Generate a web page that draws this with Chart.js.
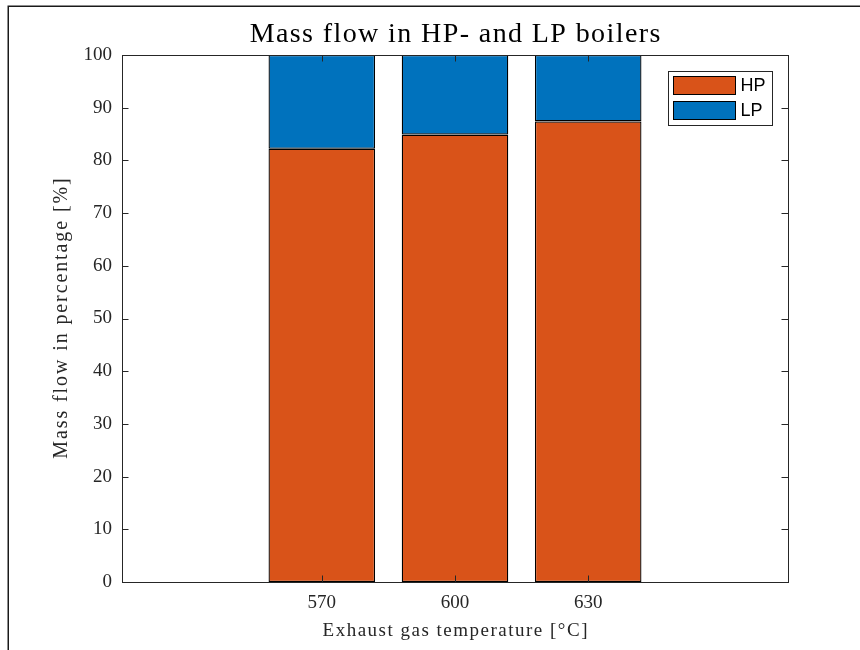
<!DOCTYPE html>
<html>
<head>
<meta charset="utf-8">
<title>Mass flow in HP- and LP boilers</title>
<script src="https://cdn.jsdelivr.net/npm/chart.js@4/dist/chart.umd.min.js"></script>
<style>
  html, body { margin: 0; padding: 0; background: #ffffff; }
  canvas { display: block; }
</style>
</head>
<body>
<canvas id="chart" width="860" height="650"></canvas>
<script>
// Exhaust gas temperatures (°C) and the share of mass flow going to each boiler (%)
const temperatures = [570, 600, 630];
const hpShare = [82.2, 84.9, 87.4];
const lpShare = [17.8, 15.1, 12.6];
const yTickValues = [0, 10, 20, 30, 40, 50, 60, 70, 80, 90, 100];
const xRange = [525, 675];

const titleText = 'Mass flow in HP- and LP boilers';
const xTitleText = 'Exhaust gas temperature [\u00B0C]';
const yTitleText = 'Mass flow in percentage [%]';

const SERIF = "'Liberation Serif', 'DejaVu Serif', serif";
const SANS = "'Liberation Sans', Arial, sans-serif";
const AXIS_COLOR = '#262626';

const HP_COLOR = '#D95319';
const LP_COLOR = '#0072BD';

// Draws text centred at (x, y), optionally with extra letter spacing
function spacedText(ctx, text, x, y, spacing) {
  ctx.letterSpacing = spacing + 'px';
  const w = ctx.measureText(text).width - spacing;
  ctx.textAlign = 'left';
  ctx.fillText(text, x - w / 2, y);
  ctx.letterSpacing = '0px';
}

// Figure background, outer frame and titles
const figurePlugin = {
  id: 'figure',
  beforeDraw(chart) {
    const ctx = chart.ctx;
    ctx.save();
    ctx.fillStyle = '#ffffff';
    ctx.fillRect(0, 0, chart.width, chart.height);
    ctx.strokeStyle = '#1a1a1a';
    ctx.lineWidth = 1.5;
    ctx.beginPath();
    ctx.moveTo(8.25, chart.height);
    ctx.lineTo(8.25, 6.25);
    ctx.lineTo(chart.width, 6.25);
    ctx.stroke();
    ctx.restore();
  },
  afterDraw(chart) {
    const ctx = chart.ctx;
    const a = chart.chartArea;
    const cx = (a.left + a.right) / 2;
    ctx.save();
    ctx.fillStyle = '#000000';
    ctx.textBaseline = 'alphabetic';
    ctx.font = '28px ' + SERIF;
    spacedText(ctx, titleText, cx, 42, 1.4);

    ctx.fillStyle = AXIS_COLOR;
    ctx.font = '19px ' + SERIF;
    ctx.textBaseline = 'middle';
    spacedText(ctx, xTitleText, cx, 631, 1.5);

    ctx.translate(62, (a.top + a.bottom) / 2);
    ctx.rotate(-Math.PI / 2);
    ctx.font = '20px ' + SERIF;
    spacedText(ctx, yTitleText, 0, 0, 1.9);
    ctx.restore();
  }
};

// Axes box with inward tick marks, drawn above the bars
const axesBoxPlugin = {
  id: 'axesBox',
  afterDatasetsDraw(chart) {
    const ctx = chart.ctx;
    const a = chart.chartArea;
    const xs = chart.scales.x;
    const ys = chart.scales.y;
    const tick = 6.5;
    ctx.save();
    ctx.strokeStyle = AXIS_COLOR;
    ctx.lineWidth = 1;
    ctx.beginPath();
    yTickValues.forEach(v => {
      const y = Math.round(ys.getPixelForValue(v)) + 0.5;
      ctx.moveTo(a.left, y); ctx.lineTo(a.left + tick, y);
      ctx.moveTo(a.right, y); ctx.lineTo(a.right - tick, y);
    });
    temperatures.forEach(v => {
      const x = Math.round(xs.getPixelForValue(v)) + 0.5;
      ctx.moveTo(x, a.bottom); ctx.lineTo(x, a.bottom - tick);
      ctx.moveTo(x, a.top); ctx.lineTo(x, a.top + tick);
    });
    ctx.stroke();
    ctx.strokeRect(Math.round(a.left) + 0.5, Math.round(a.top) + 0.5,
                   Math.round(a.right - a.left), Math.round(a.bottom - a.top));
    ctx.restore();
  }
};

// Boxed legend in the upper right corner of the axes
const boxLegendPlugin = {
  id: 'boxLegend',
  afterDraw(chart) {
    const ctx = chart.ctx;
    const a = chart.chartArea;
    const boxRight = a.right - 15.5;
    const boxTop = a.top + 16.5;
    const boxW = 104, rowH = 25, padY = 4;
    const boxH = chart.data.datasets.length * rowH + padY;
    const boxLeft = boxRight - boxW;
    ctx.save();
    ctx.fillStyle = '#ffffff';
    ctx.fillRect(boxLeft, boxTop, boxW, boxH);
    ctx.strokeStyle = '#262626';
    ctx.lineWidth = 1;
    ctx.strokeRect(boxLeft, boxTop, boxW, boxH);
    ctx.font = '18px ' + SANS;
    ctx.textBaseline = 'middle';
    ctx.textAlign = 'left';
    chart.data.datasets.forEach((ds, i) => {
      const y = boxTop + 5 + i * rowH;
      ctx.fillStyle = ds.backgroundColor;
      ctx.fillRect(boxLeft + 5, y, 62, 18);
      ctx.strokeStyle = '#000000';
      ctx.strokeRect(boxLeft + 5, y, 62, 18);
      ctx.fillStyle = '#000000';
      ctx.fillText(ds.label, boxLeft + 72, y + 10);
    });
    ctx.restore();
  }
};

const toPoints = values => temperatures.map((t, i) => ({ x: t, y: values[i] }));

const barStyle = {
  borderColor: '#000000',
  borderWidth: 1.3,
  borderSkipped: false,
  inflateAmount: 0,
  barPercentage: 0.8,
  categoryPercentage: 1.0
};

new Chart(document.getElementById('chart'), {
  type: 'bar',
  data: {
    datasets: [
      Object.assign({ label: 'HP', data: toPoints(hpShare), backgroundColor: HP_COLOR }, barStyle),
      Object.assign({ label: 'LP', data: toPoints(lpShare), backgroundColor: LP_COLOR }, barStyle)
    ]
  },
  options: {
    responsive: false,
    devicePixelRatio: 1,
    animation: false,
    layout: { padding: { left: 0, right: 72, top: 55, bottom: 0 } },
    plugins: {
      legend: { display: false },
      title: { display: false },
      tooltip: { enabled: false }
    },
    scales: {
      x: {
        type: 'linear',
        stacked: true,
        min: xRange[0],
        max: xRange[1],
        offset: false,
        grid: { display: false, drawTicks: false },
        border: { display: false },
        afterBuildTicks(scale) {
          scale.ticks = temperatures.map(v => ({ value: v }));
        },
        afterFit(scale) { scale.height = 68; },
        ticks: {
          autoSkip: false,
          maxRotation: 0,
          padding: 10,
          color: AXIS_COLOR,
          font: { family: SERIF, size: 19 },
          callback: v => String(v)
        }
      },
      y: {
        stacked: true,
        min: 0,
        max: 100,
        grid: { display: false, drawTicks: false },
        border: { display: false },
        afterBuildTicks(scale) {
          scale.ticks = yTickValues.map(v => ({ value: v }));
        },
        afterFit(scale) { scale.width = 122; },
        ticks: {
          padding: 10,
          color: AXIS_COLOR,
          font: { family: SERIF, size: 19 },
          callback: v => String(v)
        }
      }
    }
  },
  plugins: [figurePlugin, axesBoxPlugin, boxLegendPlugin]
});
</script>
</body>
</html>
